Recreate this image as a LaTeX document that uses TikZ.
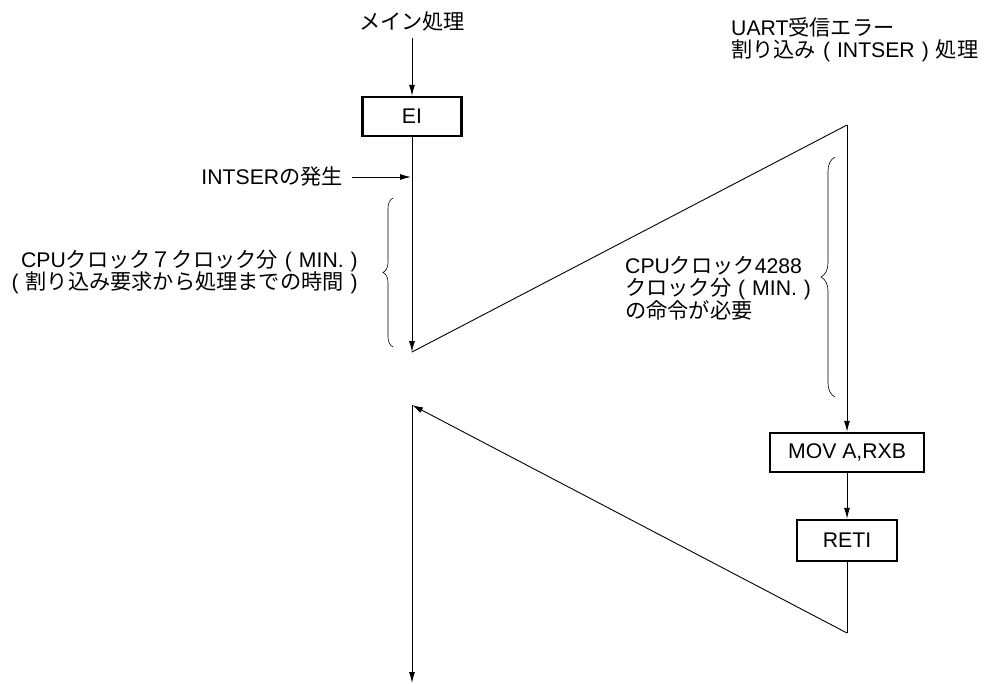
\documentclass[tikz,border=0pt]{standalone}
\usepackage{fontspec}
\setmainfont{Liberation Sans}
\newfontfamily\jp{Noto Sans CJK JP}
\newcommand\J[1]{{\jp #1}}
\newcommand\LPar{\hspace{0.33em}(\hspace{0.33em}}
\newcommand\RPar{\hspace{0.33em})\hspace{0.33em}}
\usetikzlibrary{arrows.meta,decorations.pathreplacing}
\begin{document}
\begin{tikzpicture}[x=1pt,y=-1pt,
  font=\fontsize{21.2}{22.5}\selectfont,
  line/.style={line width=0.9pt},
  arr/.style={line, -{Latex[length=11pt,width=6pt]}},
  box/.style={draw, line width=2.4pt, inner sep=0pt},
  txt/.style={inner sep=0pt},
  bracestyle/.style={line width=0.6pt, decorate}]
\useasboundingbox (0,0) rectangle (984,684);

% titles
\node[txt] (main) at (412,21) {\J{メイン処理}};
\node[txt, anchor=west, align=left] (uart) at (731,40)
  {UART\J{受信エラー}\\\J{割り込み}\LPar INTSER\RPar\J{処理}};

% boxes
\node[box, minimum width=99pt, minimum height=39pt] (ei) at (412,116.5) {EI};
\node[box, minimum width=154pt, minimum height=39pt] (mov) at (847,452.5) {MOV A,RXB};
\node[box, minimum width=100pt, minimum height=41pt] (reti) at (847,540.5) {RETI};

% labels
\node[txt, anchor=east] (intser) at (343,176) {INTSER\J{の発生}};
\node[txt, anchor=east, align=right] (lefttxt) at (358,272)
  {CPU\J{クロック７クロック分}\LPar MIN.\RPar\\\LPar\J{割り込み要求から処理までの時間}\RPar};
\node[txt, anchor=west, align=left] (righttxt) at (625,288)
  {CPU\J{クロック}4288\\\J{クロック分}\LPar MIN.\RPar\\\J{の命令が必要}};

% coordinates
\coordinate (mtop) at (412,38);
\coordinate (a1) at (412,352);
\coordinate (r1) at (847,125);
\coordinate (r2) at (847,633);
\coordinate (b1) at (412,405);
\coordinate (bend) at (412,683);
\coordinate (is) at (352,177);
\coordinate (ie) at (411,177);

% connectors
\draw[arr] (mtop) -- (ei.north);
\draw[arr] (ei.south) -- (a1);
\draw[line] (a1) -- (r1);
\draw[arr] (r1) -- (mov.north);
\draw[arr] (mov.south) -- (reti.north);
\draw[line] (reti.south) -- (r2);
\draw[arr] (r2) -- (b1);
\draw[arr] (b1) -- (bend);
\draw[arr] (is) -- (ie);

% braces
\draw[bracestyle, decoration={brace, amplitude=10pt}] (393,347) -- (393,198);
\draw[bracestyle, decoration={brace, amplitude=14pt}] (835,397) -- (835,157);
\end{tikzpicture}
\end{document}
